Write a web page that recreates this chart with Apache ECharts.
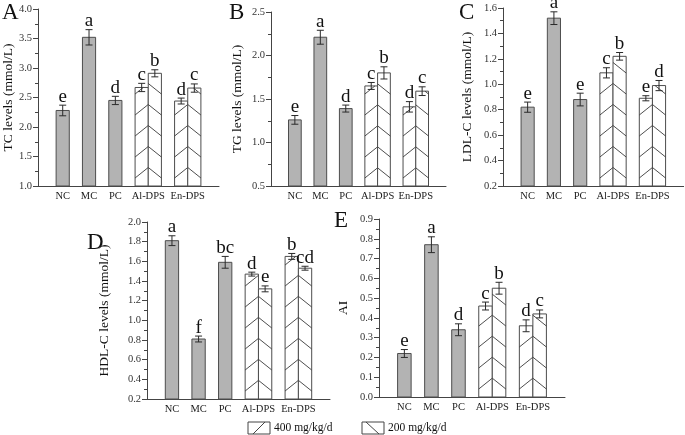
<!DOCTYPE html>
<html><head><meta charset="utf-8">
<script src="https://cdn.jsdelivr.net/npm/echarts@6/dist/echarts.min.js"></script>
<style>html,body{margin:0;padding:0;background:#fff}#c{width:685px;height:435px}</style>
</head><body><div id="c"></div><script>
// ---- data ----
const groups = ['NC', 'MC', 'PC', 'Al-DPS', 'En-DPS'];
const barNames = ['NC', 'MC', 'PC', 'Al-DPS 400', 'Al-DPS 200', 'En-DPS 400', 'En-DPS 200'];
const doses = ['400 mg/kg/d', '200 mg/kg/d'];

const tcMean = [2.28, 3.52, 2.45, 2.67, 2.91, 2.44, 2.66];
const tcSD   = [0.09, 0.13, 0.07, 0.07, 0.06, 0.05, 0.07];
const tcSig  = ['e', 'a', 'd', 'c', 'b', 'd', 'c'];

const tgMean = [1.26, 2.21, 1.39, 1.65, 1.80, 1.41, 1.59];
const tgSD   = [0.05, 0.08, 0.04, 0.04, 0.07, 0.06, 0.05];
const tgSig  = ['e', 'a', 'd', 'c', 'b', 'd', 'c'];

const ldlMean = [0.82, 1.52, 0.88, 1.09, 1.22, 0.89, 0.99];
const ldlSD   = [0.04, 0.05, 0.05, 0.04, 0.03, 0.02, 0.04];
const ldlSig  = ['e', 'a', 'e', 'c', 'b', 'e', 'd'];

const hdlMean = [1.81, 0.81, 1.59, 1.47, 1.32, 1.65, 1.53];
const hdlSD   = [0.05, 0.03, 0.06, 0.02, 0.03, 0.03, 0.02];
const hdlSig  = ['a', 'f', 'bc', 'd', 'e', 'b', 'cd'];

const aiMean = [0.22, 0.77, 0.34, 0.46, 0.55, 0.36, 0.42];
const aiSD   = [0.02, 0.04, 0.03, 0.02, 0.03, 0.03, 0.02];
const aiSig  = ['e', 'a', 'd', 'c', 'b', 'd', 'c'];

// ---- layout (fine category slots) ----
const nSlots = 55;
const barSlots = [7, 15, 23, 31, 35, 43, 47];
const barKind = [0, 0, 0, 1, 2, 1, 2];      // 0 solid grey, 1 = 400 (/), 2 = 200 (\)
const groupSlots = [7, 15, 23, 33, 45];
const slotNames = Array.from({length: nSlots}, (_, i) => 's' + i);
const slotLabel = {};
groups.forEach((g, i) => { slotLabel['s' + groupSlots[i]] = g; });

const FONT = '"Liberation Serif", "Times New Roman", serif';
const HATCH_SLOPE = 0.8, HATCH_STEP = 21, HATCH_PHASE = 8;

const panels = [
  {mean: tcMean, sd: tcSD, sig: tcSig, min: 1.0, max: 4.0, step: 0.5, name: 'TC levels (mmol/L)',
   grid: {left: 38, top: 9, width: 181, height: 177}, gap: 21, tag: 'A', tagPos: [2, 13]},
  {mean: tgMean, sd: tgSD, sig: tgSig, min: 0.5, max: 2.5, step: 0.5, name: 'TG levels (mmol/L)',
   grid: {left: 271, top: 12, width: 175, height: 174}, gap: 27, tag: 'B', tagPos: [229, 13]},
  {mean: ldlMean, sd: ldlSD, sig: ldlSig, min: 0.2, max: 1.6, step: 0.2, name: 'LDL-C levels (mmol/L)',
   grid: {left: 503, top: 8, width: 181, height: 178}, gap: 29, tag: 'C', tagPos: [459, 13]},
  {mean: hdlMean, sd: hdlSD, sig: hdlSig, min: 0.2, max: 2.0, step: 0.2, name: 'HDL-C levels (mmol/L)',
   grid: {left: 147, top: 222, width: 183, height: 177}, gap: 36, tag: 'D', tagPos: [87, 243]},
  {mean: aiMean, sd: aiSD, sig: aiSig, min: 0.0, max: 0.9, step: 0.1, name: 'AI',
   grid: {left: 379, top: 219, width: 186, height: 178}, gap: 29, tag: 'E', tagPos: [334, 221]}
];

function hatchLines(x0, x1, yT, yB, dir, out) {
  const w = x1 - x0, t = HATCH_SLOPE;
  for (let j = -2; j < 100; j++) {
    const b = yB - HATCH_PHASE - j * HATCH_STEP;
    if (b < yT) break;
    const sMin = Math.max(0, (b - yB) / t);
    const sMax = Math.min(w, (b - yT) / t);
    if (sMax <= sMin) continue;
    const xa = dir > 0 ? x0 + sMin : x1 - sMin;
    const xb = dir > 0 ? x0 + sMax : x1 - sMax;
    out.push({type: 'line', shape: {x1: xa, y1: b - sMin * t, x2: xb, y2: b - sMax * t},
      style: {stroke: '#3a3a3a', lineWidth: 0.9}, silent: true});
  }
}

function makeRender(p) {
  return function (params, api) {
    const k = params.dataIndex;
    const slot = api.value(0), v = api.value(1), sd = api.value(2);
    const top = api.coord([slot, v]);
    const base = api.coord([slot, p.min]);
    const w = api.size([1, 0])[0] * 4;
    const cx = top[0];
    const x0 = cx - w / 2, x1 = cx + w / 2, yT = top[1], yB = base[1];
    const kind = barKind[k];
    const ch = [];
    ch.push({type: 'rect', shape: {x: x0, y: yT, width: w, height: yB - yT},
      style: {fill: kind ? '#ffffff' : '#b3b3b3', stroke: '#4d4d4d', lineWidth: 1}});
    if (kind) hatchLines(x0, x1, yT, yB, kind === 1 ? 1 : -1, ch);
    const hi = api.coord([slot, v + sd])[1], lo = api.coord([slot, v - sd])[1];
    const cap = 3.5;
    const es = {stroke: '#2a2a2a', lineWidth: 1};
    ch.push({type: 'line', shape: {x1: cx, y1: hi, x2: cx, y2: lo}, style: es});
    ch.push({type: 'line', shape: {x1: cx - cap, y1: hi, x2: cx + cap, y2: hi}, style: es});
    ch.push({type: 'line', shape: {x1: cx - cap, y1: lo, x2: cx + cap, y2: lo}, style: es});
    ch.push({type: 'text', x: cx, y: hi + 1,
      style: {text: p.sig[k], textAlign: 'center', textVerticalAlign: 'bottom',
        font: '19px ' + FONT, fill: '#111'}});
    return {type: 'group', children: ch};
  };
}

const option = {
  animation: false,
  backgroundColor: '#fff',
  grid: panels.map(p => Object.assign({containLabel: false}, p.grid)),
  xAxis: panels.map((p, i) => ({
    type: 'category', gridIndex: i, data: slotNames,
    axisLine: {onZero: false, lineStyle: {color: '#444', width: 1}},
    axisTick: {show: false},
    axisLabel: {interval: 0, margin: 5, fontFamily: FONT, fontSize: 10.5, color: '#1a1a1a',
      formatter: v => slotLabel[v] || ''}
  })),
  yAxis: panels.map((p, i) => ({
    type: 'value', gridIndex: i, min: p.min, max: p.max, interval: p.step,
    axisLine: {show: true, lineStyle: {color: '#444', width: 1}},
    axisTick: {show: true, length: 5, lineStyle: {color: '#444'}},
    minorTick: {show: true, splitNumber: 2, length: 3, lineStyle: {color: '#444'}},
    splitLine: {show: false},
    axisLabel: {margin: 6, fontFamily: FONT, fontSize: 10.5, color: '#333',
      formatter: v => v.toFixed(1)},
    name: p.name, nameLocation: 'middle', nameRotate: 90, nameGap: p.gap,
    nameTextStyle: {fontFamily: FONT, fontSize: 13.5, color: '#111'}
  })),
  series: panels.map((p, i) => ({
    type: 'custom', name: p.name, xAxisIndex: i, yAxisIndex: i,
    encode: {x: 0, y: 1},
    data: p.mean.map((m, k) => [barSlots[k], m, p.sd[k]]),
    renderItem: makeRender(p), clip: false
  })),
  graphic: [
    ...panels.map(p => ({type: 'text', x: p.tagPos[0], y: p.tagPos[1],
      style: {text: p.tag, font: '23px ' + FONT, fill: '#111', textVerticalAlign: 'middle'}})),
    {type: 'rect', shape: {x: 248, y: 422, width: 22, height: 12}, style: {fill: '#fff', stroke: '#444', lineWidth: 1}},
    {type: 'line', shape: {x1: 253, y1: 434, x2: 265, y2: 422}, style: {stroke: '#444', lineWidth: 1}},
    {type: 'text', x: 274, y: 428, style: {text: doses[0], font: '11.5px ' + FONT, fill: '#111', textVerticalAlign: 'middle'}},
    {type: 'rect', shape: {x: 362, y: 422, width: 22, height: 12}, style: {fill: '#fff', stroke: '#444', lineWidth: 1}},
    {type: 'line', shape: {x1: 366, y1: 422, x2: 379, y2: 434}, style: {stroke: '#444', lineWidth: 1}},
    {type: 'text', x: 388, y: 428, style: {text: doses[1], font: '11.5px ' + FONT, fill: '#111', textVerticalAlign: 'middle'}}
  ]
};

const chart = echarts.init(document.getElementById('c'), null, {renderer: 'canvas'});
chart.setOption(option);
</script></body></html>
